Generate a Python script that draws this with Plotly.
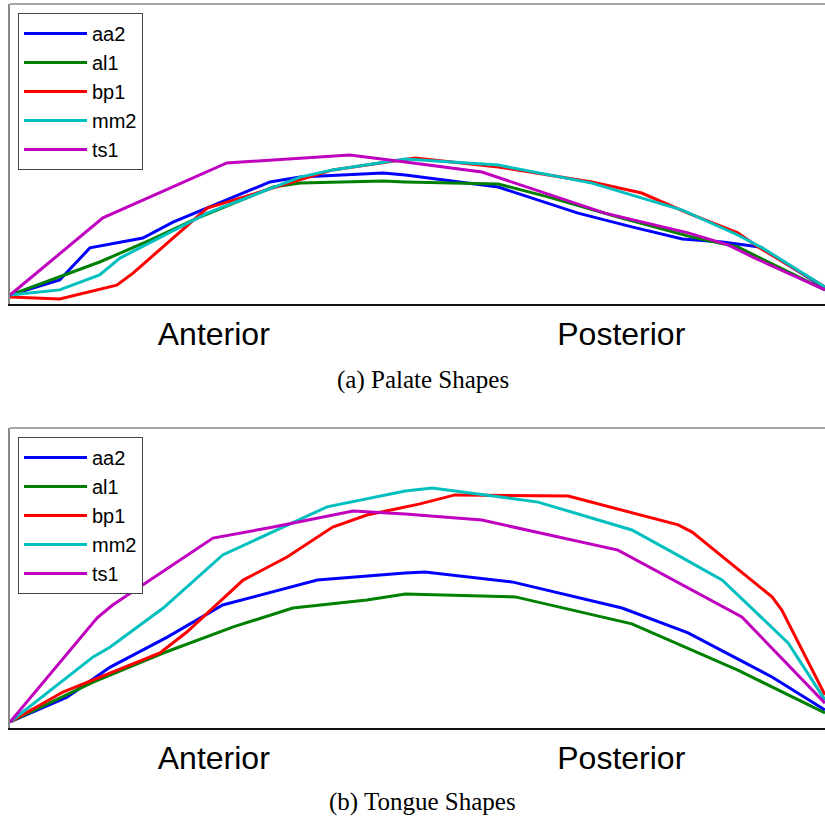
import plotly.graph_objects as go

# ---------------- data (x: 0 = anterior end, 100 = posterior end) ----------------
speakers = ["aa2", "al1", "bp1", "mm2", "ts1"]
colors = ["#0000FF", "#008000", "#FF0000", "#00BFBF", "#BF00BF"]

# Palate shapes
palate_aa2_x = [0, 6.1, 9.8, 16.3, 20.0, 27.0, 31.9, 35.6, 45.8, 48.5, 59.9, 69.7, 76.3, 82.5, 87.4, 92.0, 100]
palate_aa2_y = [3.0, 8.0, 18.7, 22.0, 27.3, 35.3, 40.7, 42.3, 43.7, 43.0, 39.0, 30.3, 25.7, 21.7, 20.7, 19.0, 5.3]
palate_al1_x = [0, 6.1, 11.0, 17.2, 23.3, 32.3, 35.6, 45.8, 48.5, 59.9, 66.0, 74.6, 83.7, 89.3, 100]
palate_al1_y = [3.0, 9.0, 14.0, 21.3, 29.0, 39.0, 40.3, 41.0, 40.7, 40.0, 35.7, 29.0, 22.3, 19.0, 4.7]
palate_bp1_x = [0, 6.1, 13.1, 15.1, 24.2, 33.5, 39.6, 49.7, 59.9, 71.4, 77.5, 83.2, 89.3, 91.8, 100]
palate_bp1_y = [2.3, 1.7, 6.3, 10.3, 32.0, 39.7, 44.7, 48.7, 45.7, 40.7, 37.0, 30.3, 23.7, 19.0, 5.7]
palate_mm2_x = [0, 6.1, 11.0, 13.5, 24.2, 35.6, 39.6, 48.5, 59.9, 71.4, 82.5, 89.3, 92.3, 100]
palate_mm2_y = [3.0, 4.7, 9.7, 15.3, 30.3, 42.3, 44.7, 48.3, 46.3, 40.3, 31.3, 23.0, 18.7, 5.7]
palate_ts1_x = [0, 11.4, 26.6, 41.7, 48.5, 57.9, 73.0, 83.2, 88.1, 91.4, 100]
palate_ts1_y = [3.0, 28.7, 47.0, 49.7, 47.3, 44.0, 30.3, 23.7, 19.7, 15.3, 4.7]

# Tongue shapes
tongue_aa2_x = [0, 7.0, 12.3, 19.3, 26.1, 37.7, 48.5, 50.9, 61.6, 75.1, 83.2, 93.5, 100]
tongue_aa2_y = [2.0, 10.3, 20.3, 30.3, 41.0, 49.3, 51.7, 52.0, 48.7, 40.0, 31.7, 17.0, 6.0]
tongue_al1_x = [0, 10.2, 18.8, 27.4, 34.7, 43.8, 48.5, 62.0, 76.3, 89.3, 100]
tongue_al1_y = [2.0, 15.3, 25.0, 33.7, 40.0, 42.7, 44.7, 43.7, 34.7, 19.3, 5.0]
tongue_bp1_x = [0, 6.5, 18.4, 21.7, 28.6, 34.0, 39.6, 43.8, 50.3, 54.6, 68.5, 82.0, 83.7, 93.5, 94.7, 100]
tongue_bp1_y = [2.0, 12.0, 25.0, 32.0, 49.3, 57.0, 67.0, 71.0, 74.7, 77.7, 77.3, 67.7, 65.3, 43.7, 39.3, 11.0]
tongue_mm2_x = [0, 10.2, 12.3, 18.8, 26.1, 38.9, 48.5, 51.8, 64.8, 76.3, 81.2, 87.4, 95.5, 100]
tongue_mm2_y = [2.0, 23.7, 27.0, 40.0, 57.7, 73.7, 79.0, 80.0, 75.3, 66.0, 58.7, 49.3, 28.3, 9.3]
tongue_ts1_x = [0, 10.7, 12.6, 24.9, 32.3, 42.1, 48.5, 57.9, 74.6, 89.8, 100]
tongue_ts1_y = [2.0, 36.7, 41.0, 63.3, 67.0, 72.3, 71.3, 69.3, 59.3, 37.0, 8.3]

tick_vals = [25, 75]
tick_text = ["Anterior", "Posterior"]
captions = ["(a) Palate Shapes", "(b) Tongue Shapes"]

palate = [(palate_aa2_x, palate_aa2_y), (palate_al1_x, palate_al1_y), (palate_bp1_x, palate_bp1_y),
          (palate_mm2_x, palate_mm2_y), (palate_ts1_x, palate_ts1_y)]
tongue = [(tongue_aa2_x, tongue_aa2_y), (tongue_al1_x, tongue_al1_y), (tongue_bp1_x, tongue_bp1_y),
          (tongue_mm2_x, tongue_mm2_y), (tongue_ts1_x, tongue_ts1_y)]

# ---------------- figure ----------------
W, H = 825, 817
fig = go.Figure()

for name, col, (xs, ys) in zip(speakers, colors, palate):
    fig.add_trace(go.Scatter(x=xs, y=ys, mode="lines", name=name, xaxis="x", yaxis="y",
                             line=dict(color=col, width=3), legend="legend"))
for name, col, (xs, ys) in zip(speakers, colors, tongue):
    fig.add_trace(go.Scatter(x=xs, y=ys, mode="lines", name=name, xaxis="x2", yaxis="y2",
                             line=dict(color=col, width=3), legend="legend2"))

sans = "Liberation Sans, Arial, Helvetica, sans-serif"
serif = "Liberation Serif, Times New Roman, serif"

def py(p):  # pixel row -> paper fraction
    return 1 - p / H

xax = dict(range=[0, 100], domain=[0, 1], showgrid=False, zeroline=False,
           tickvals=tick_vals, ticktext=tick_text, ticks="",
           tickfont=dict(family=sans, size=32, color="black"),
           showline=True, linecolor="#111111", linewidth=1.5, ticklabelstandoff=1)
yax = dict(range=[0, 100], showgrid=False, zeroline=False, showticklabels=False, ticks="",
           showline=True, linecolor="#888888", linewidth=1.5)

leg = dict(x=8 / 815, xanchor="left", yanchor="top", bgcolor="white",
           bordercolor="#444444", borderwidth=1,
           font=dict(family=sans, size=20, color="black"), itemwidth=63,
           tracegroupgap=0)

fig.update_layout(
    width=W, height=H,
    margin=dict(l=10, r=0, t=0, b=0),
    paper_bgcolor="white", plot_bgcolor="white",
    xaxis=dict(**xax, anchor="y"),
    yaxis=dict(**yax, domain=[py(304), py(4)], anchor="x"),
    xaxis2=dict(**xax, anchor="y2"),
    yaxis2=dict(**yax, domain=[py(728), py(428)], anchor="x2"),
    legend=dict(**leg, y=py(13)),
    legend2=dict(**leg, y=py(437)),
    showlegend=True,
    shapes=[
        dict(type="line", xref="x domain", yref="y domain", x0=0, x1=1, y0=1, y1=1,
             line=dict(color="#888888", width=1.5)),
        dict(type="line", xref="x2 domain", yref="y2 domain", x0=0, x1=1, y0=1, y1=1,
             line=dict(color="#888888", width=1.5)),
    ],
    annotations=[
        dict(text=captions[0], xref="paper", yref="paper", x=(423 - 10) / 815, y=py(380),
             xanchor="center", yanchor="middle", showarrow=False,
             font=dict(family=serif, size=25, color="black")),
        dict(text=captions[1], xref="paper", yref="paper", x=(423 - 10) / 815, y=py(802),
             xanchor="center", yanchor="middle", showarrow=False,
             font=dict(family=serif, size=25, color="black")),
    ],
)

fig.write_html("out.html")
